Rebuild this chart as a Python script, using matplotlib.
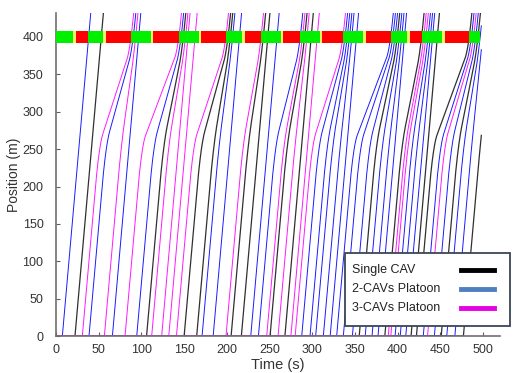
import numpy as np
import matplotlib.pyplot as plt
from matplotlib.lines import Line2D
from matplotlib.patches import Rectangle

plt.rcParams['font.family'] = ['Liberation Sans', 'DejaVu Sans']

# signal timing at the stop line (s)
green_start = [0, 37, 88, 144, 199, 240, 286, 336, 392, 428, 484]
green_end = [20, 55, 111, 167, 218, 263, 309, 360, 411, 452, 497]

# vehicles: time entering at 0 m, time passing 400 m, type (1 single, 2 / 3 platoon)
entry_time = [7.4, 22.2, 30.8, 38.6, 56.6, 66.0, 80.8, 94.5, 106.0, 112.0,
              123.7, 132.0, 141.0, 150.0, 164.7, 171.0, 184.0, 199.0, 205.0, 217.0,
              228.0, 237.0, 246.7, 250.6, 260.0, 268.0, 275.0, 280.0, 287.7, 297.4,
              304.0, 313.0, 321.0, 328.6, 336.4, 347.0, 355.0, 362.0, 370.0, 377.0,
              385.0, 389.0, 392.0, 397.0, 403.0, 409.5, 415.7, 422.0, 430.0, 435.0,
              443.0, 451.0, 457.5, 467.0, 477.0]
cross_time = [38.2, 53.0, 88.5, 91.0, 93.5, 96.8, 144.5, 147.0, 149.5, 152.0,
              154.5, 162.8, 199.5, 202.0, 204.5, 207.0, 214.8, 240.5, 243.0, 248.0,
              258.8, 286.5, 289.0, 291.5, 294.0, 298.8, 305.8, 336.5, 339.0, 341.5,
              344.0, 346.5, 351.8, 392.5, 395.0, 397.5, 400.0, 402.5, 405.0, 408.0,
              428.5, 431.0, 433.5, 436.0, 438.5, 441.0, 446.5, 484.5, 487.0, 489.5,
              492.0, 494.5, 497.0, 499.5, 510.0]
veh_type = [2, 1, 3, 2, 3, 2, 3, 2, 1, 3,
            3, 3, 3, 1, 1, 2, 2, 3, 1, 1,
            2, 2, 3, 1, 3, 1, 3, 3, 2, 2,
            2, 2, 2, 2, 2, 2, 1, 2, 2, 2,
            1, 3, 3, 2, 2, 2, 1, 1, 2, 3,
            2, 1, 2, 2, 1]

line_colors = {1: '#303030', 2: '#1a1aff', 3: '#ff1aff'}
legend_colors = {1: 'black', 2: '#4f7fc0', 3: '#e600e6'}
labels = {1: 'Single CAV', 2: '2-CAVs Platoon', 3: '3-CAVs Platoon'}

v_free = 13.0
stop_pos = 400
slow_from, slow_to = 255, 385
t_end = 498
t = np.arange(-8, t_end + 8, 0.1)


def trajectory(t0, tc):
    t_free = t0 + stop_pos / v_free
    if tc - t_free < 1.5:
        kt = [t0, tc]
        kp = [0, stop_pos]
    else:
        kt = [t0, t0 + slow_from / v_free, tc - (stop_pos - slow_to) / v_free, tc]
        kp = [0, slow_from, slow_to, stop_pos]
    kt = [-10] + kt + [tc + 80]
    kp = [0] + kp + [stop_pos + 80 * v_free]
    raw = np.interp(t, kt, kp)
    k = np.ones(91) / 91
    smooth = np.convolve(raw, k, mode='same')
    return np.where(raw > 120, smooth, raw)


fig = plt.figure(figsize=(5.14, 3.73), dpi=100)
ax = fig.add_axes([0.109, 0.099, 0.864, 0.866])

keep = (t >= 0) & (t <= t_end)
for typ in [1, 2, 3]:
    for t0, tc, vt in zip(entry_time, cross_time, veh_type):
        if vt != typ:
            continue
        pos = trajectory(t0, tc)
        ax.plot(t[keep], pos[keep], color=line_colors[vt],
                lw=0.9 if vt == 1 else 0.7)

# signal bar
bar_y, bar_h = 392, 16
greens = [(s, e - s) for s, e in zip(green_start, green_end)]
yellows = [(e, 3) for e in green_end[:-1]]
reds = [(e + 3, s - e - 3) for e, s in zip(green_end[:-1], green_start[1:])]
ax.broken_barh(greens, (bar_y, bar_h), facecolors='#00f000', zorder=5)
ax.broken_barh(yellows, (bar_y, bar_h), facecolors='#f5f060', zorder=5)
ax.broken_barh(reds, (bar_y, bar_h), facecolors='#ff0000', zorder=5)

ax.set_xlim(0, 520)
ax.set_ylim(0, 432)
ax.set_xticks(np.arange(0, 501, 50))
ax.set_yticks(np.arange(0, 401, 50))
ax.tick_params(direction='in', length=3, color='#606060',
               labelsize=9, labelcolor='#333333')
ax.tick_params(axis='y', pad=9)
ax.tick_params(axis='x', pad=6)
for s in ['top', 'right']:
    ax.spines[s].set_visible(False)
for s in ['left', 'bottom']:
    ax.spines[s].set_color('#707070')
    ax.spines[s].set_linewidth(1.2)
ax.set_xlabel('Time (s)', fontsize=10.5, color='#333333', labelpad=1)
ax.set_ylabel('Position (m)', fontsize=10, color='#333333', labelpad=1)

# legend box drawn in figure pixels
W, H = 514, 373
fig.patches.append(Rectangle((345 / W, 1 - 326 / H), 165 / W, 73 / H,
                             transform=fig.transFigure, facecolor='white',
                             edgecolor='#3a4656', lw=1.3, zorder=10))
for k, row_y in zip([1, 2, 3], [270, 289, 308]):
    fig.text(352 / W, 1 - row_y / H, labels[k], fontsize=9, color='#222222',
             va='center', ha='left', zorder=11)
    fig.lines.append(Line2D([461 / W, 494 / W], [1 - row_y / H] * 2,
                            transform=fig.transFigure, color=legend_colors[k],
                            lw=3.5, zorder=11))

fig.savefig('out.png', dpi=100)
